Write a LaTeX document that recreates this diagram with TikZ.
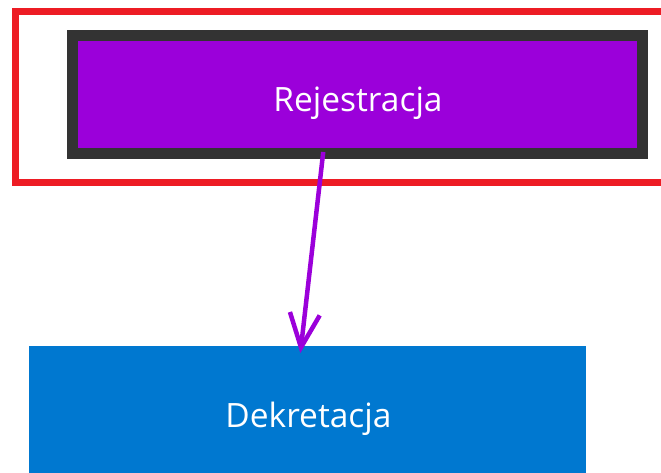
\documentclass[tikz,border=0pt]{standalone}
\usepackage{fontspec}
\setmainfont{Open Sans}
\usetikzlibrary{arrows.meta}
\definecolor{regpurple}{RGB}{155,0,218}
\definecolor{dekblue}{RGB}{0,120,208}
\definecolor{framered}{RGB}{237,28,36}
\definecolor{darkframe}{RGB}{51,51,51}
\tikzset{
  boxlabel/.style={text=white, font=\fontsize{33.5}{40}\selectfont, inner sep=0pt, outer sep=0pt, anchor=base},
  selframe/.style={draw=framered, line width=7pt, inner sep=0pt, outer sep=0pt},
  regbox/.style={draw=darkframe, fill=regpurple, line width=11pt, inner sep=0pt, outer sep=0pt},
  dekbox/.style={fill=dekblue, inner sep=0pt, outer sep=0pt},
  flow/.style={draw=regpurple, line width=4.5pt, -{Straight Barb[length=34pt,width=30pt]}}
}
\begin{document}
\begin{tikzpicture}[x=1pt,y=-1pt]
\useasboundingbox (0,0) rectangle (661,473);
\node[selframe, minimum width=684.5pt, minimum height=171.5pt] (sel) at (357.75,97.25) {};
\node[regbox, minimum width=569.5pt, minimum height=118pt] (reg) at (357.25,95) {};
\node[boxlabel] (regt) at (358,112) {Rejestracja};
\node[dekbox, minimum width=557.3pt, minimum height=136pt] (dek) at (307.35,414) {};
\node[boxlabel] (dekt) at (308.5,427) {Dekretacja};
\draw[flow] ([xshift=-34pt,yshift=2pt]reg.south) -- ([xshift=-7pt,yshift=-7pt]dek.north);
\end{tikzpicture}
\end{document}
